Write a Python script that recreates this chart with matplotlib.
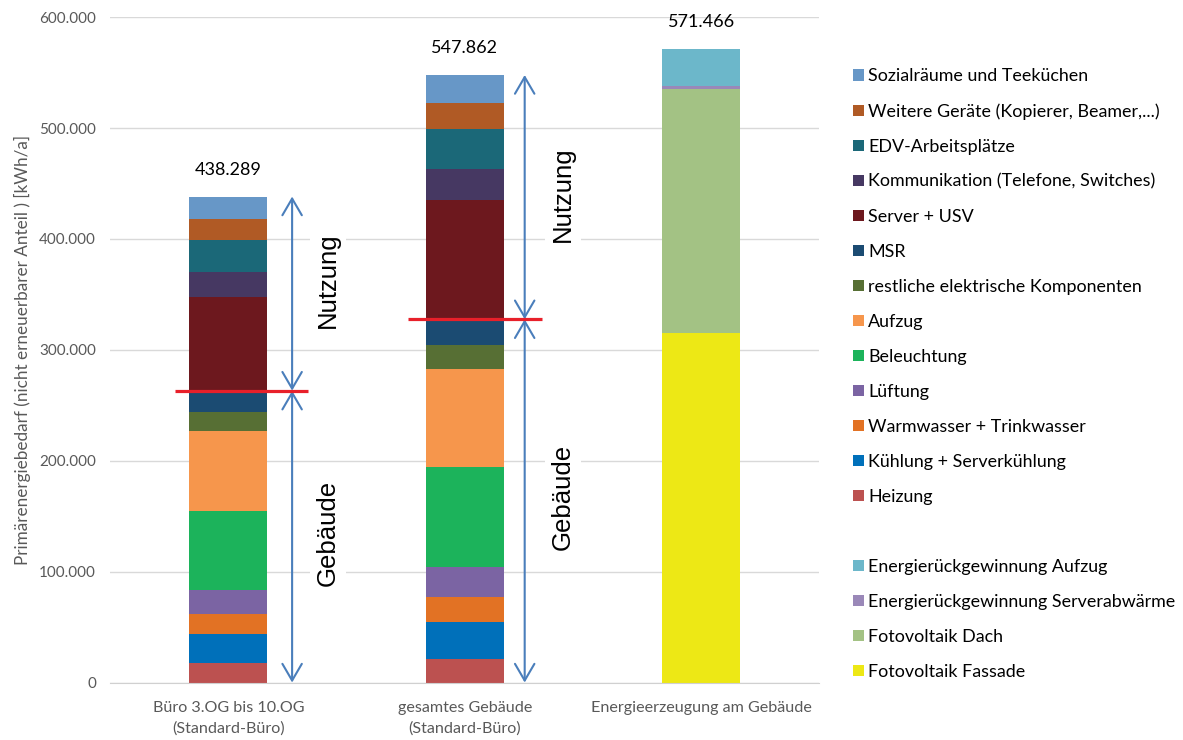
import matplotlib
matplotlib.use('Agg')
import matplotlib.pyplot as plt
from matplotlib.patches import Patch, FancyArrowPatch
import numpy as np

plt.rcParams['font.family'] = ['Lato', 'DejaVu Sans']

categories = ['Büro 3.OG bis 10.OG\n(Standard-Büro)',
              'gesamtes Gebäude\n(Standard-Büro)',
              'Energieerzeugung am Gebäude']

# stacked bottom -> top, values in kWh/a
series = [
    ('Heizung', [17400, 21300, 0], '#bc5150'),
    ('Kühlung + Serverkühlung', [26700, 33600, 0], '#0070ba'),
    ('Warmwasser + Trinkwasser', [17800, 22000, 0], '#e27224'),
    ('Lüftung', [21900, 27300, 0], '#7b64a3'),
    ('Beleuchtung', [70900, 90200, 0], '#1cb35b'),
    ('Aufzug', [72200, 88400, 0], '#f6964c'),
    ('restliche elektrische Komponenten', [16800, 21300, 0], '#576f34'),
    ('MSR', [19500, 23500, 0], '#1b4b72'),
    ('Server + USV', [84500, 107300, 0], '#6d181e'),
    ('Kommunikation (Telefone, Switches)', [22500, 28200, 0], '#463862'),
    ('EDV-Arbeitsplätze', [28900, 36400, 0], '#1b6878'),
    ('Weitere Geräte (Kopierer, Beamer,...)', [18900, 23400, 0], '#b05a25'),
    ('Sozialräume und Teeküchen', [20289, 24962, 0], '#6797c7'),
]
generation = [
    ('Fotovoltaik Fassade', [0, 0, 315000], '#ede815'),
    ('Fotovoltaik Dach', [0, 0, 220300], '#a3c284'),
    ('Energierückgewinnung Serverabwärme', [0, 0, 2700], '#9a88b8'),
    ('Energierückgewinnung Aufzug', [0, 0, 33466], '#6cb7ca'),
]
n_gebaeude = 8  # first 8 series count as "Gebäude", rest as "Nutzung"

fig = plt.figure(figsize=(11.83, 7.4), dpi=100)
ax = fig.add_axes([0.093, 0.0776, 0.5997, 0.8992])

x = np.arange(len(categories))
width = 0.33
bottom = np.zeros(len(categories))
handles = {}
for name, vals, col in series + generation:
    vals = np.array(vals, dtype=float)
    b = ax.bar(x, vals, width, bottom=bottom, color=col, label=name, zorder=2)
    handles[name] = b
    bottom += vals

totals = bottom
for xi, t in zip(x, totals):
    ax.text(xi, t + 17000, f'{int(t):,}'.replace(',', '.'), ha='center',
            va='bottom', fontsize=13, color='black')

# Gebäude / Nutzung markers
cum = np.cumsum([s[1] for s in series], axis=0)
boundary = cum[n_gebaeude - 1]
arrow_x = [0.27, 1.2535]
red_span = [(-0.225, 0.337), (0.76, 1.325)]
txt_x = [0.422, 1.415]
txt_y = [(363000, 135300), (440600, 167800)]
for i in range(2):
    for y0, y1 in [(boundary[i], totals[i]), (0, boundary[i])]:
        ar = FancyArrowPatch((arrow_x[i], y0), (arrow_x[i], y1),
                             arrowstyle='<->,head_length=1.2,head_width=0.7',
                             mutation_scale=10, color='#4a7ebb', lw=1.5,
                             shrinkA=0, shrinkB=0, zorder=4)
        ax.add_patch(ar)
    ax.plot(red_span[i], [boundary[i], boundary[i]], color='#e8202a', lw=2.3,
            zorder=5, solid_capstyle='butt')
    for label, ty in zip(['Nutzung', 'Gebäude'], txt_y[i]):
        ax.text(txt_x[i], ty, label, rotation=90, ha='center', va='center',
                fontsize=18.5, family='Liberation Sans', zorder=3,
                bbox=dict(facecolor='white', edgecolor='none', pad=4))

ax.set_xlim(-0.5, 2.5)
ax.set_ylim(0, 600000)
ax.set_yticks(np.arange(0, 600001, 100000))
ax.yaxis.set_major_formatter(plt.FuncFormatter(lambda v, p: f'{int(v):,}'.replace(',', '.')))
ax.set_xticks(x)
ax.set_xticklabels(categories, fontsize=11.6, color='#595959', linespacing=1.6)
ax.tick_params(axis='y', labelsize=11, labelcolor='#595959', length=0, pad=10)
ax.tick_params(axis='x', length=0, pad=13)
ax.grid(axis='y', color='#d9d9d9', lw=1, zorder=0)
ax.set_axisbelow(True)
for s in ['top', 'right', 'left']:
    ax.spines[s].set_visible(False)
ax.spines['bottom'].set_color('#d0d0d0')
ax.set_ylabel('Primärenergiebedarf (nicht erneuerbarer Anteil ) [kWh/a]',
              fontsize=12.3, color='#595959', labelpad=6)

order = [s[0] for s in series][::-1]
leg_handles = [handles[n] for n in order]
leg_labels = list(order)
leg_handles.append(Patch(facecolor='none', edgecolor='none'))
leg_labels.append(' ')
for n in [g[0] for g in generation][::-1]:
    leg_handles.append(handles[n])
    leg_labels.append(n)
fig.legend(leg_handles, leg_labels, loc='upper left',
           bbox_to_anchor=(846 / 1183, 1 - 61 / 740), frameon=False,
           fontsize=12.9, handlelength=0.6, handleheight=0.6,
           handletextpad=0.25, labelspacing=1.06, borderaxespad=0)

fig.savefig('out.png', dpi=100)
